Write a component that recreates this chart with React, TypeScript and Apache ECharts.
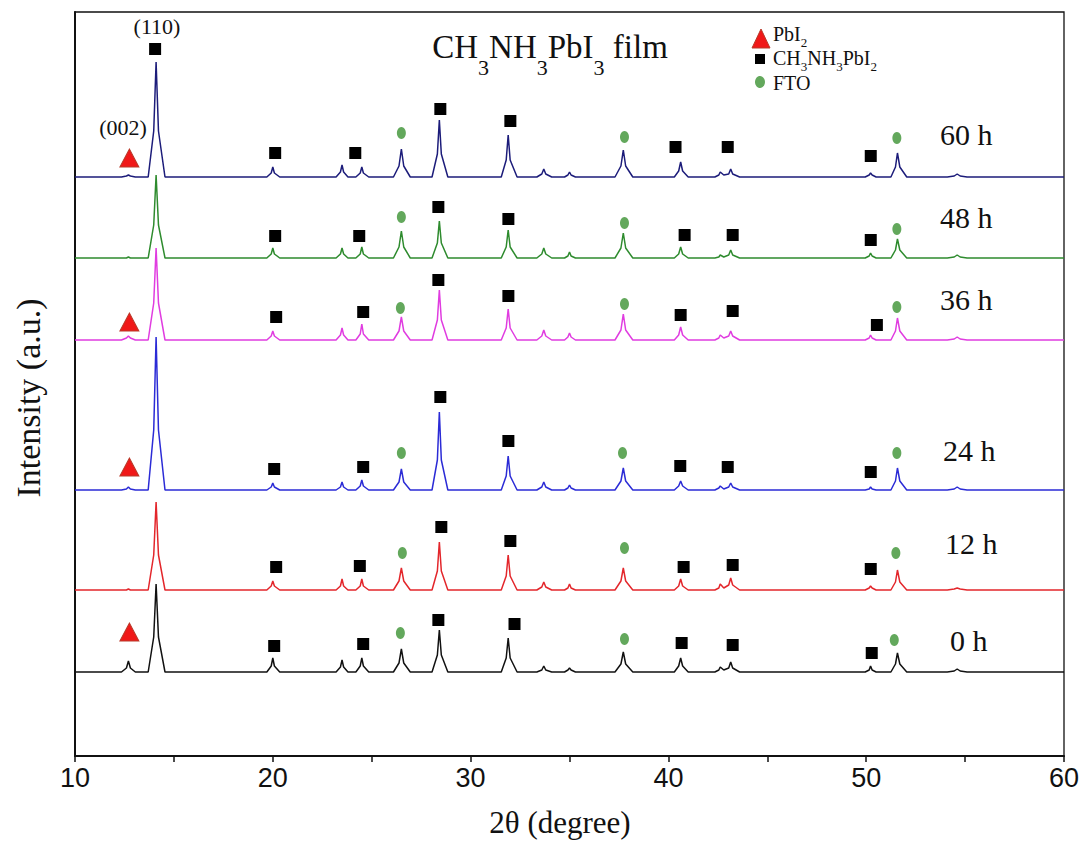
import React, { useEffect, useRef } from "react";
import * as echarts from "echarts";

// 2θ positions (degree) of the points read along every pattern
const TWO_THETA = [10,
  12.35, 12.6, 12.7, 12.8, 13.05,
  13.7, 13.98, 14.1, 14.22, 14.55,
  19.7, 19.92, 20.0, 20.08, 20.35,
  23.2, 23.42, 23.5, 23.58, 23.8,
  24.2, 24.42, 24.5, 24.58, 24.85,
  26.1, 26.38, 26.5, 26.62, 26.95,
  28.05, 28.32, 28.42, 28.52, 28.85,
  31.55, 31.8, 31.9, 32.0, 32.35,
  33.35, 33.6, 33.7, 33.8, 34.1,
  34.75, 34.92, 35.0, 35.08, 35.3,
  37.3, 37.6, 37.72, 37.84, 38.2,
  40.3, 40.52, 40.62, 40.72, 41.0,
  42.35, 42.55, 42.62, 42.8, 43.05, 43.15, 43.25, 43.6,
  49.95, 50.15, 50.22, 50.3, 50.5,
  51.25, 51.48, 51.58, 51.7, 52.05,
  54.1, 54.45, 54.6, 54.75, 55.1,
  60];

// intensities above each pattern's own baseline (a.u.)
const I_0H = [0,
  0, 4, 11, 4, 0,
  0, 35, 88, 35, 0,
  0, 6, 14, 6, 0,
  0, 5, 12, 5, 0,
  0, 6, 14, 6, 0,
  0, 9, 23, 9, 0,
  0, 17, 42, 17, 0,
  0, 14, 34, 14, 0,
  0, 2, 6, 2, 0,
  0, 2, 4, 2, 0,
  0, 8, 20, 8, 0,
  0, 6, 14, 6, 0,
  0, 2, 5, 2, 4, 10, 4, 0,
  0, 2, 6, 2, 0,
  0, 8, 19, 8, 0,
  0, 1, 3, 1, 0,
  0];
const I_12H = [0,
  0, 0, 1, 0, 0,
  0, 35, 88, 35, 0,
  0, 4, 9, 4, 0,
  0, 4, 11, 4, 0,
  0, 4, 11, 4, 0,
  0, 9, 22, 9, 0,
  0, 19, 48, 19, 0,
  0, 14, 35, 14, 0,
  0, 3, 8, 3, 0,
  0, 2, 6, 2, 0,
  0, 9, 22, 9, 0,
  0, 4, 11, 4, 0,
  0, 2, 6, 2, 5, 12, 5, 0,
  0, 2, 4, 2, 0,
  0, 8, 20, 8, 0,
  0, 1, 2, 1, 0,
  0];
const I_24H = [0,
  0, 1, 3, 1, 0,
  0, 60, 153, 60, 0,
  0, 3, 7, 3, 0,
  0, 3, 8, 3, 0,
  0, 4, 10, 4, 0,
  0, 8, 21, 8, 0,
  0, 30, 78, 30, 0,
  0, 14, 34, 14, 0,
  0, 3, 8, 3, 0,
  0, 2, 5, 2, 0,
  0, 9, 22, 9, 0,
  0, 4, 9, 4, 0,
  0, 2, 4, 1, 3, 7, 3, 0,
  0, 1, 3, 1, 0,
  0, 9, 22, 9, 0,
  0, 1, 3, 1, 0,
  0];
const I_36H = [0,
  0, 2, 4, 2, 0,
  0, 37, 92, 37, 0,
  0, 4, 9, 4, 0,
  0, 5, 12, 5, 0,
  0, 6, 16, 6, 0,
  0, 9, 23, 9, 0,
  0, 20, 50, 20, 0,
  0, 12, 31, 12, 0,
  0, 4, 10, 4, 0,
  0, 3, 7, 3, 0,
  0, 10, 26, 10, 0,
  0, 5, 13, 5, 0,
  0, 2, 5, 2, 4, 9, 4, 0,
  0, 2, 5, 2, 0,
  0, 9, 22, 9, 0,
  0, 1, 3, 1, 0,
  0];
const I_48H = [0,
  0, 0, 1, 0, 0,
  0, 33, 83, 33, 0,
  0, 4, 10, 4, 0,
  0, 4, 10, 4, 0,
  0, 4, 11, 4, 0,
  0, 11, 27, 11, 0,
  0, 15, 37, 15, 0,
  0, 11, 28, 11, 0,
  0, 4, 10, 4, 0,
  0, 2, 6, 2, 0,
  0, 10, 25, 10, 0,
  0, 4, 11, 4, 0,
  0, 1, 3, 1, 3, 8, 3, 0,
  0, 2, 5, 2, 0,
  0, 8, 19, 8, 0,
  0, 1, 3, 1, 0,
  0];
const I_60H = [0,
  0, 1, 2, 1, 0,
  0, 46, 115, 46, 0,
  0, 4, 10, 4, 0,
  0, 5, 12, 5, 0,
  0, 4, 10, 4, 0,
  0, 11, 28, 11, 0,
  0, 23, 57, 23, 0,
  0, 17, 42, 17, 0,
  0, 3, 8, 3, 0,
  0, 2, 5, 2, 0,
  0, 11, 27, 11, 0,
  0, 6, 15, 6, 0,
  0, 2, 5, 2, 3, 8, 3, 0,
  0, 2, 4, 2, 0,
  0, 10, 24, 10, 0,
  0, 1, 3, 1, 0,
  0];

const PATTERN_NAMES = ["0 h", "12 h", "24 h", "36 h", "48 h", "60 h"];
const PATTERNS = [I_0H, I_12H, I_24H, I_36H, I_48H, I_60H];
// vertical offset of each pattern's baseline (a.u.)
const OFFSETS = [84, 166, 266, 416, 498, 579];

// phase markers [2θ, intensity a.u.]
const SQUARE_MARKS = [
  [14.05, 707],
  [20.07, 110], [24.57, 112], [28.37, 136], [32.22, 132], [40.67, 113], [43.25, 111], [50.28, 103],
  [20.17, 189], [24.4, 190], [28.52, 229], [32.01, 215], [40.77, 189], [43.25, 191], [50.23, 187],
  [20.07, 287], [24.57, 289], [28.47, 359], [31.91, 315], [40.6, 290], [43.0, 289], [50.23, 284],
  [20.17, 439], [24.57, 444], [28.37, 476], [31.91, 460], [40.62, 441], [43.25, 445], [50.54, 431],
  [20.12, 520], [24.37, 520], [28.37, 549], [31.91, 537], [40.82, 521], [43.25, 521], [50.23, 516],
  [20.12, 603], [24.17, 603], [28.47, 647], [32.01, 635], [40.36, 609], [43.0, 609], [50.23, 600],
];
const CIRCLE_MARKS = [
  [26.45, 123], [37.78, 117], [51.42, 116],
  [26.55, 203], [37.78, 208], [51.5, 203],
  [26.5, 303], [37.68, 303], [51.55, 303],
  [26.45, 448], [37.78, 452], [51.55, 449],
  [26.5, 539], [37.78, 533], [51.55, 527],
  [26.5, 623], [37.78, 619], [51.55, 618],
];
const TRIANGLE_MARKS = [[12.75, 124], [12.75, 289], [12.75, 434], [12.75, 598]];

const X_MIN = 10;
const X_MAX = 60;
const X_LABEL_STEP = 10;

const COLORS = ["#111111", "#e3262b", "#2b2bd6", "#e03ce0", "#2e8b2e", "#1c1c7a"];
const SERIF = "'Liberation Serif', 'Times New Roman', serif";
const SANS = "'Liberation Sans Narrow', 'Liberation Sans', Arial, sans-serif";

function measure(text: string, size: number, family: string) {
  const ctx = document.createElement("canvas").getContext("2d") as CanvasRenderingContext2D;
  ctx.font = `${size}px ${family}`;
  return ctx.measureText(text).width;
}

type Seg = [string, boolean];
function subText(segs: Seg[], x0: number, baseY: number, fs: number, sfs: number, drop: number, align: "left" | "center") {
  const widths = segs.map(([t, s]) => measure(t, s ? sfs : fs, SERIF));
  const total = widths.reduce((a, b) => a + b, 0);
  let x = align === "center" ? x0 - total / 2 : x0;
  const els: any[] = [];
  segs.forEach(([t, s], i) => {
    const size = s ? sfs : fs;
    const by = s ? baseY + drop : baseY;
    els.push({
      type: "text",
      x,
      y: by - 0.34 * size,
      style: { text: t, fontSize: size, fontFamily: SERIF, fill: "#111", align: "left", verticalAlign: "middle" },
    });
    x += widths[i];
  });
  return els;
}

const LABEL_POS = [
  [950, 640], [945, 543], [943, 450], [940, 299], [940, 217], [940, 134],
];

export default function App() {
  const ref = useRef<HTMLDivElement>(null);
  useEffect(() => {
    if (!ref.current) return;
    const chart = echarts.init(ref.current, undefined, { renderer: "svg" });

    const lineSeries = PATTERNS.map((vals, k) => ({
      name: PATTERN_NAMES[k],
      type: "line",
      data: TWO_THETA.map((x, i) => [x, vals[i] + OFFSETS[k]]),
      showSymbol: false,
      symbol: "none",
      lineStyle: { width: 1.5, color: COLORS[k] },
      z: 2 + k * 0.01,
      silent: true,
    }));

    const graphics: any[] = [
      ...subText([["CH", false], ["3", true], ["NH", false], ["3", true], ["PbI", false], ["3", true], [" film", false]], 550, 58, 33, 22, 17, "center"),
      ...subText([["PbI", false], ["2", true]], 773, 41, 20, 13, 6, "left"),
      ...subText([["CH", false], ["3", true], ["NH", false], ["3", true], ["PbI", false], ["2", true]], 773, 65, 20, 13, 6, "left"),
      ...subText([["FTO", false]], 773, 90, 20, 13, 6, "left"),
      { type: "polygon", shape: { points: [[752, 48], [770, 48], [761, 29]] }, style: { fill: "#f01818", stroke: "#b83a2a", lineWidth: 1 } },
      { type: "rect", shape: { x: 755, y: 54, width: 10, height: 10 }, style: { fill: "#000" } },
      { type: "ellipse", shape: { cx: 760, cy: 82, rx: 5, ry: 6 }, style: { fill: "#63a85c" } },
      { type: "text", x: 157, y: 26, style: { text: "(110)", fontSize: 22, fontFamily: SERIF, fill: "#111", align: "center", verticalAlign: "middle" } },
      { type: "text", x: 123, y: 127, style: { text: "(002)", fontSize: 22, fontFamily: SERIF, fill: "#111", align: "center", verticalAlign: "middle" } },
      ...PATTERN_NAMES.map((t, k) => ({
        type: "text", x: LABEL_POS[k][0], y: LABEL_POS[k][1],
        style: { text: t, fontSize: 30, fontFamily: SERIF, fill: "#111", align: "left", verticalAlign: "middle" },
      })),
      {
        type: "text", x: 28, y: 398, rotation: Math.PI / 2,
        style: { text: "Intensity (a.u.)", fontSize: 34, fontFamily: SERIF, fill: "#111", align: "center", verticalAlign: "middle" },
      },
      {
        type: "text", x: 560, y: 822,
        style: { text: "2θ (degree)", fontSize: 31, fontFamily: SERIF, fill: "#111", align: "center", verticalAlign: "middle" },
      },
    ];

    chart.setOption({
      animation: false,
      backgroundColor: "#ffffff",
      grid: { left: 75, right: 22, top: 12, bottom: 86, show: true, borderColor: "#111", borderWidth: 1.3, backgroundColor: "transparent" },
      xAxis: {
        type: "value",
        min: X_MIN,
        max: X_MAX,
        interval: X_LABEL_STEP / 2,
        axisLine: { show: true, lineStyle: { color: "#111", width: 2 } },
        axisTick: { show: true, length: 6, lineStyle: { color: "#111", width: 1.5 } },
        splitLine: { show: false },
        axisLabel: {
          margin: 8,
          fontSize: 27,
          fontFamily: SANS,
          color: "#111",
          formatter: (v: number) => (v % X_LABEL_STEP === 0 ? String(v) : ""),
        },
      },
      yAxis: {
        type: "value",
        min: 0,
        max: 744,
        axisLine: { show: true, lineStyle: { color: "#111", width: 2 } },
        axisTick: { show: false },
        axisLabel: { show: false },
        splitLine: { show: false },
      },
      series: [
        ...lineSeries,
        { type: "scatter", data: SQUARE_MARKS, symbol: "rect", symbolSize: 12, itemStyle: { color: "#000", opacity: 1 }, z: 5, silent: true },
        { type: "scatter", data: CIRCLE_MARKS, symbol: "circle", symbolSize: [9, 12], itemStyle: { color: "#63a85c", opacity: 1 }, z: 5, silent: true },
        { type: "scatter", data: TRIANGLE_MARKS, symbol: "triangle", symbolSize: [19, 18], itemStyle: { color: "#f01818", borderColor: "#b83a2a", borderWidth: 1, opacity: 1 }, z: 5, silent: true },
      ],
      graphic: graphics,
    });
    return () => chart.dispose();
  }, []);
  return <div ref={ref} style={{ position: "fixed", left: 0, top: 0, width: 1086, height: 842 }} />;
}
